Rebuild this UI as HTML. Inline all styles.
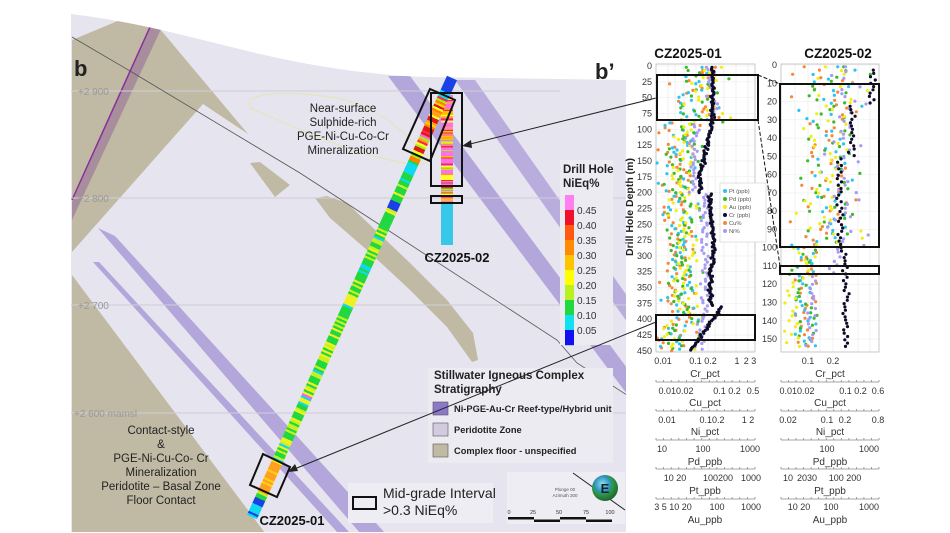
<!DOCTYPE html>
<html><head><meta charset="utf-8"><style>
html,body{margin:0;padding:0;background:#fff;}
svg{display:block;font-family:"Liberation Sans",sans-serif;}
</style></head><body>
<svg id="s" width="950" height="533" viewBox="0 0 950 533" xmlns="http://www.w3.org/2000/svg">
<defs>
<clipPath id="mapclip"><path d="M71,14 C140,22 200,40 260,54 C320,68 380,76 430,77 L626,80 L626,532 L71,532 Z"/></clipPath>
<radialGradient id="sph" cx="0.4" cy="0.35" r="0.7"><stop offset="0" stop-color="#8fe0f0"/><stop offset="0.45" stop-color="#2a8fb5"/><stop offset="0.55" stop-color="#2f9a4a"/><stop offset="1" stop-color="#1b5f2a"/></radialGradient>
<linearGradient id="h1" gradientUnits="userSpaceOnUse" x1="452" y1="78" x2="252" y2="517"></linearGradient>
<linearGradient id="h2" gradientUnits="userSpaceOnUse" x1="0" y1="95" x2="0" y2="245"></linearGradient>
</defs>
<g clip-path="url(#mapclip)">
<rect x="71" y="0" width="556" height="533" fill="#e6e4ee"/>
<polygon points="72,40 120,20 160,29 248,134 203,104 72,252" fill="#c0baa5"/>
<polygon points="150,27 162,27 72,220 72,202" fill="#a88e9c"/>
<line x1="150" y1="27" x2="72" y2="200" stroke="#8a2d9c" stroke-width="1.5"/>
<polygon points="72,275 265,533 72,533" fill="#c0baa5"/>
<polygon points="250,163 260,162 290,185 275,197" fill="#c0baa5"/>
<polygon points="315,198 327,196 347,203 410,263 447,300 473,333 478,360 472,362 447,327 410,290 367,250 330,218" fill="#c0baa5"/>
<polygon points="98,228 115,236 385,533 360,533" fill="#b3a6db"/>
<polygon points="93,262 99,262 350,533 338,533" fill="#b3a6db"/>
<polygon points="388,76 410,76 630,372 630,398" fill="#b3a6db"/>
<polygon points="455,80 475,80 630,300 630,326" fill="#b9addd"/>
<g stroke="#cfcdd8" stroke-width="1"><line x1="71" y1="91" x2="560" y2="91"/><line x1="71" y1="198" x2="626" y2="198"/><line x1="71" y1="305" x2="626" y2="305"/><line x1="71" y1="413" x2="626" y2="413"/></g>
<polyline points="72,37 130,71 300,173 557,340 577,363 630,397" fill="none" stroke="#555" stroke-width="0.8"/>
<path d="M250,100 C265,90 300,93 330,97 C360,100 395,120 420,150 C440,165 420,168 390,160 C340,150 280,120 250,108 Z" fill="none" stroke="#e8e49a" stroke-width="0.7"/>
</g>
<g font-size="10" fill="#999"><text x="78" y="95">+2 900</text><text x="78" y="202">+2 800</text><text x="78" y="309">+2 700</text><text x="74" y="417">+2 600 mamsl</text></g>
<text x="74" y="76" font-size="22" font-weight="bold" fill="#222">b</text>
<text x="595" y="79" font-size="22" font-weight="bold" fill="#222">b’</text>
<line x1="447" y1="95" x2="447" y2="245" stroke="url(#h2)" stroke-width="12"/>
<line x1="452" y1="78" x2="252" y2="517" stroke="url(#h1)" stroke-width="11"/>
<g fill="none" stroke="#111" stroke-width="2">
<polygon points="430,89 455,100 430,161 403,149"/>
<rect x="431" y="93" width="31" height="93"/>
<rect x="431" y="196" width="31" height="7"/>
<polygon points="263,454 290,467 277,497 250,485"/>
</g>
<g font-size="11.5" fill="#222" text-anchor="middle">
<text x="343" y="112">Near-surface</text><text x="343" y="126">Sulphide-rich</text><text x="343" y="140">PGE-Ni-Cu-Co-Cr</text><text x="343" y="154">Mineralization</text>
<text x="161" y="434">Contact-style</text><text x="161" y="448">&amp;</text><text x="161" y="462">PGE-Ni-Cu-Co- Cr</text><text x="161" y="476">Mineralization</text><text x="161" y="490">Peridotite – Basal Zone</text><text x="161" y="504">Floor Contact</text>
</g>
<text x="457" y="262" font-size="13" font-weight="bold" text-anchor="middle" fill="#111">CZ2025-02</text>
<text x="292" y="525" font-size="13" font-weight="bold" text-anchor="middle" fill="#111">CZ2025-01</text>
<rect x="560" y="160" width="53" height="185" fill="#ecebf1"/>
<text x="563" y="173" font-size="11.5" font-weight="bold" fill="#222">Drill Hole</text>
<text x="563" y="187" font-size="11.5" font-weight="bold" fill="#222">NiEq%</text>
<g id="cbar"></g>
<g font-size="10" fill="#333"><text x="577" y="214">0.45</text><text x="577" y="229">0.40</text><text x="577" y="244">0.35</text><text x="577" y="259">0.30</text><text x="577" y="274">0.25</text><text x="577" y="289">0.20</text><text x="577" y="304">0.15</text><text x="577" y="319">0.10</text><text x="577" y="334">0.05</text></g>
<rect x="428" y="368" width="185" height="95" fill="#ecebf1"/>
<text x="434" y="379" font-size="11.5" font-weight="bold" fill="#222">Stillwater Igneous Complex</text>
<text x="434" y="393" font-size="11.5" font-weight="bold" fill="#222">Stratigraphy</text>
<rect x="433" y="402" width="15" height="13" fill="#8c78c8" stroke="#555" stroke-width="0.6"/>
<rect x="433" y="423" width="15" height="13" fill="#d2cade" stroke="#555" stroke-width="0.6"/>
<rect x="433" y="444" width="15" height="13" fill="#c0baa5" stroke="#555" stroke-width="0.6"/>
<g font-size="9.3" font-weight="bold" fill="#222"><text x="454" y="412">Ni-PGE-Au-Cr Reef-type/Hybrid unit</text><text x="454" y="433">Peridotite Zone</text><text x="454" y="454">Complex floor - unspecified</text></g>
<line x1="656" y1="98" x2="466" y2="145" stroke="#222" stroke-width="1"/>
<polygon points="462,146 471,140 472,148" fill="#222"/>
<line x1="656" y1="322" x2="292" y2="470" stroke="#222" stroke-width="1"/>
<polygon points="288,472 295,464 298,471" fill="#222"/>
<rect x="348" y="483" width="145" height="40" fill="#eeedf3"/>
<rect x="353" y="497" width="23" height="12" fill="none" stroke="#111" stroke-width="2"/>
<text x="383" y="498" font-size="14" fill="#222">Mid-grade Interval</text>
<text x="383" y="515" font-size="14" fill="#222">&gt;0.3 NiEq%</text>
<rect x="507" y="472" width="118" height="52" fill="#eeedf3"/>
<line x1="573" y1="473" x2="625" y2="510" stroke="#222" stroke-width="1"/>
<circle cx="605" cy="488" r="13" fill="url(#sph)"/>
<text x="605" y="493" font-size="13" font-weight="bold" text-anchor="middle" fill="#123">E</text>
<g font-size="4.5" fill="#555" text-anchor="middle"><text x="565" y="491">Plunge 00</text><text x="565" y="497">Azimuth 300</text></g>
<g font-size="5.5" fill="#333" text-anchor="middle"><text x="509" y="514">0</text><text x="533" y="514">25</text><text x="559" y="514">50</text><text x="586" y="514">75</text><text x="610" y="514">100</text></g>
<rect x="508" y="517" width="26" height="2.5" fill="#111"/><rect x="534" y="519.5" width="26" height="2.5" fill="#111"/><rect x="560" y="517" width="26" height="2.5" fill="#111"/><rect x="586" y="519.5" width="26" height="2.5" fill="#111"/>
<text x="688" y="58" font-size="13.5" font-weight="bold" text-anchor="middle" fill="#111">CZ2025-01</text>
<text x="838" y="58" font-size="13.5" font-weight="bold" text-anchor="middle" fill="#111">CZ2025-02</text>
<g id="grid"></g>
<rect x="656" y="64" width="99" height="288" fill="none" stroke="#bbb" stroke-width="0.8"/>
<rect x="781" y="64" width="98" height="288" fill="none" stroke="#bbb" stroke-width="0.8"/>
<g id="dots"></g>
<g id="yl1" font-size="9" fill="#333" text-anchor="end"></g>
<g id="yl2" font-size="9" fill="#333" text-anchor="end"></g>
<text transform="translate(633,207) rotate(-90)" font-size="10.5" font-weight="bold" text-anchor="middle" fill="#222">Drill Hole Depth (m)</text>
<g fill="none" stroke="#111" stroke-width="2">
<rect x="657" y="75" width="101" height="45"/>
<rect x="656" y="315" width="99" height="25"/>
<rect x="780" y="84" width="99" height="163"/>
<rect x="780" y="266" width="99" height="8"/>
</g>
<g stroke="#111" stroke-width="1" stroke-dasharray="4,2"><line x1="758" y1="75" x2="780" y2="84"/><line x1="758" y1="120" x2="780" y2="266"/></g>
<rect x="720" y="183" width="46" height="59" fill="#fff" stroke="#ccc" stroke-width="0.6"/>
<g font-size="5.8" fill="#555">
<circle cx="725" cy="191" r="2" fill="#2ec4f0"/><text x="729" y="193">Pt (ppb)</text>
<circle cx="725" cy="199" r="2" fill="#3cba2c"/><text x="729" y="201">Pd (ppb)</text>
<circle cx="725" cy="207" r="2" fill="#f2ee10"/><text x="729" y="209">Au (ppb)</text>
<circle cx="725" cy="215" r="2" fill="#0d0d2a"/><text x="729" y="217">Cr (ppb)</text>
<circle cx="725" cy="223" r="2" fill="#f6883a"/><text x="729" y="225">Cu%</text>
<circle cx="725" cy="231" r="2" fill="#a89af0"/><text x="729" y="233">Ni%</text>
</g>
<g id="axes" stroke="#888" stroke-width="0.8"></g>
<g font-size="9" fill="#333" text-anchor="middle">
<text x="663" y="364">0.01</text><text x="703" y="364">0.1 0.2</text><text x="737" y="364">1</text><text x="750" y="364">2 3</text>
<text x="676" y="394">0.010.02</text><text x="727" y="394">0.1 0.2</text><text x="753" y="394">0.5</text>
<text x="667" y="423">0.01</text><text x="712" y="423">0.10.2</text><text x="748" y="423">1 2</text>
<text x="662" y="452">10</text><text x="703" y="452">100</text><text x="750" y="452">1000</text>
<text x="675" y="481">10 20</text><text x="718" y="481">100200</text><text x="751" y="481">1000</text>
<text x="673" y="510">3 5 10 20</text><text x="717" y="510">100</text><text x="751" y="510">1000</text>
<text x="808" y="364">0.1</text><text x="833" y="364">0.2</text>
<text x="797" y="394">0.010.02</text><text x="853" y="394">0.1 0.2</text><text x="878" y="394">0.6</text>
<text x="788" y="423">0.02</text><text x="827" y="423">0.1</text><text x="845" y="423">0.2</text><text x="878" y="423">0.8</text>
<text x="827" y="452">100</text><text x="869" y="452">1000</text>
<text x="788" y="481">10</text><text x="807" y="481">2030</text><text x="845" y="481">100 200</text>
<text x="799" y="510">10 20</text><text x="831" y="510">100</text><text x="869" y="510">1000</text>
</g>
<g font-size="10" fill="#333" text-anchor="middle">
<text x="705" y="377">Cr_pct</text><text x="705" y="406">Cu_pct</text><text x="705" y="435">Ni_pct</text><text x="705" y="465">Pd_ppb</text><text x="705" y="494">Pt_ppb</text><text x="705" y="523">Au_ppb</text>
<text x="830" y="377">Cr_pct</text><text x="830" y="406">Cu_pct</text><text x="830" y="435">Ni_pct</text><text x="830" y="465">Pd_ppb</text><text x="830" y="494">Pt_ppb</text><text x="830" y="523">Au_ppb</text>
</g>
</svg>
<script>
(function(){
var NS="http://www.w3.org/2000/svg";
function el(t,a,p){var e=document.createElementNS(NS,t);for(var k in a)e.setAttribute(k,a[k]);p.appendChild(e);return e;}
var seed=7;function r(){seed=(seed*16807)%2147483647;return (seed-1)/2147483646;}
function n(){return (r()+r()+r()-1.5)*1.4;}
var cb=document.getElementById("cbar");
var cc=["#ff7ef0","#f0102a","#ff5a10","#ff8c00","#ffc400","#ffff00","#b8f020","#22d840","#10e0f0","#1010f0"];
for(var i=0;i<10;i++)el("rect",{x:565,y:195+i*15,width:9,height:15.2,fill:cc[i]},cb);
function grad(id,N,fn){var g=document.getElementById(id);for(var i=0;i<N;i++){var c=fn(i/N);el("stop",{offset:i/N,"stop-color":c},g);el("stop",{offset:(i+1)/N,"stop-color":c},g);}}
var hi=["#ff2a40","#ffd000","#ff8000","#ff60e0","#ffff20","#e01818","#ffa020","#a0f020"];
grad("h1",220,function(t){if(t<0.03)return "#1a40e8";if(t<0.045)return "#10d8f0";if(t<0.19)return hi[Math.floor(r()*hi.length)];
if(t<0.23)return r()<0.5?"#10d8f0":"#22d840";if(t<0.3&&t>0.28)return "#1a40e8";
if(t>0.955)return r()<0.7?"#1a40e8":"#10d8f0";if(t>0.875&&t<0.945)return r()<0.6?"#ffa020":"#ffd010";
if(t>0.72&&t<0.727)return "#ff60e0";var q=r();return q<0.55?"#22d840":(q<0.75?"#c8f020":(q<0.88?"#10d8f0":"#f0f020"));});
var h2c=["#ff70e8","#ffc000","#a0f020","#ff70e8","#ff9040","#ffff20","#ff70e8","#ee3030"];
grad("h2",120,function(t){if(t<0.72)return h2c[Math.floor(r()*h2c.length)];return "#35c8e8";});
var gr=document.getElementById("grid");
[0.02,0.03,0.05,0.1,0.2,0.3,0.5,1,2].forEach(function(v){var x=656+40*(Math.log10(v)+2);el("line",{x1:x,y1:64,x2:x,y2:352,stroke:"#e6e6e6","stroke-width":0.6},gr);});
for(var d=0;d<=450;d+=25){var y=66+d*0.633;el("line",{x1:656,y1:y,x2:755,y2:y,stroke:"#eee","stroke-width":0.6},gr);var t=el("text",{x:652,y:y+3},document.getElementById("yl1"));t.textContent=d;}
[795,808,820,833,845,858,870].forEach(function(x){el("line",{x1:x,y1:64,x2:x,y2:352,stroke:"#e6e6e6","stroke-width":0.6},gr);});
for(var d=0;d<=150;d+=10){var y=65+d*1.827;el("line",{x1:781,y1:y,x2:879,y2:y,stroke:"#eee","stroke-width":0.6},gr);var t=el("text",{x:777,y:y+3},document.getElementById("yl2"));t.textContent=d;}
var ax=document.getElementById("axes");
[382,411,440,469,499].forEach(function(y){[[656,755],[781,879]].forEach(function(p){el("line",{x1:p[0],y1:y,x2:p[1],y2:y},ax);for(var i=0;i<14;i++){var x=p[0]+(p[1]-p[0])*(i/13);el("line",{x1:x,y1:y,x2:x,y2:y-2},ax);}});});
var dg=document.getElementById("dots");
var cols={pt:"#2ec4f0",pd:"#3cba2c",au:"#f2ee10",cu:"#f6883a",ni:"#a89af0",cr:"#0d0d2a"};
function dot(x,y,c,lo,hi){if(x<lo)x=lo+r()*3;if(x>hi)x=hi-r()*3;el("circle",{cx:x.toFixed(1),cy:y.toFixed(1),r:1.6,fill:c},dg);}
["cu","pt","pd","au","ni"].forEach(function(k){for(var d=2;d<450;d+=3.2+r()*2){var y=66+d*0.633;var m,s;
if(d<90){m=700;s=18;}else if(d<200){m=685-(d-90)*0.05;s=12;}else if(d<390){m=683;s=11;}else{m=695-(d-390)*0.4;s=14;}
if(k=="ni"){m=d<90?712:(d<200?695:(d<390?704:700));s=4;}
if(k=="cu")m-=6;if(k=="pt")m-=4;
dot(m+n()*s,y,cols[k],657,754);}});
for(var d=2;d<450;d+=2.2){var y=66+d*0.633;var m;
if(d<90)m=713;else if(d<170)m=712-(d-90)*0.15;else if(d<200)m=700;else if(d<380)m=712+Math.sin(d/20)*2;else m=722-(d-380)*0.45;
dot(m+n()*1.5,y,cols.cr,657,754);}
["cu","pt","pd","au","ni"].forEach(function(k){for(var d=1;d<155;d+=1.5+r()*1.2){var y=65+d*1.827;var m,s;
if(d<100){m=830;s=22;}else{m=805;s=10;}
if(k=="ni"){m=d<100?845:(d<115?835:812);s=d<100?14:4;}
if(k=="au"&&d>115)m=790;
dot(m+n()*s,y,cols[k],782,878);}});
for(var d=1;d<155;d+=1.8){var y=65+d*1.827;var m;
if(d<22)m=872;else if(d<50)m=852;else if(d<100)m=840+n()*2;else m=846;
if(d<10&&r()<0.5)continue;
dot(m+n()*2.5,y,cols.cr,782,878);}
})();
</script>
</body></html>
